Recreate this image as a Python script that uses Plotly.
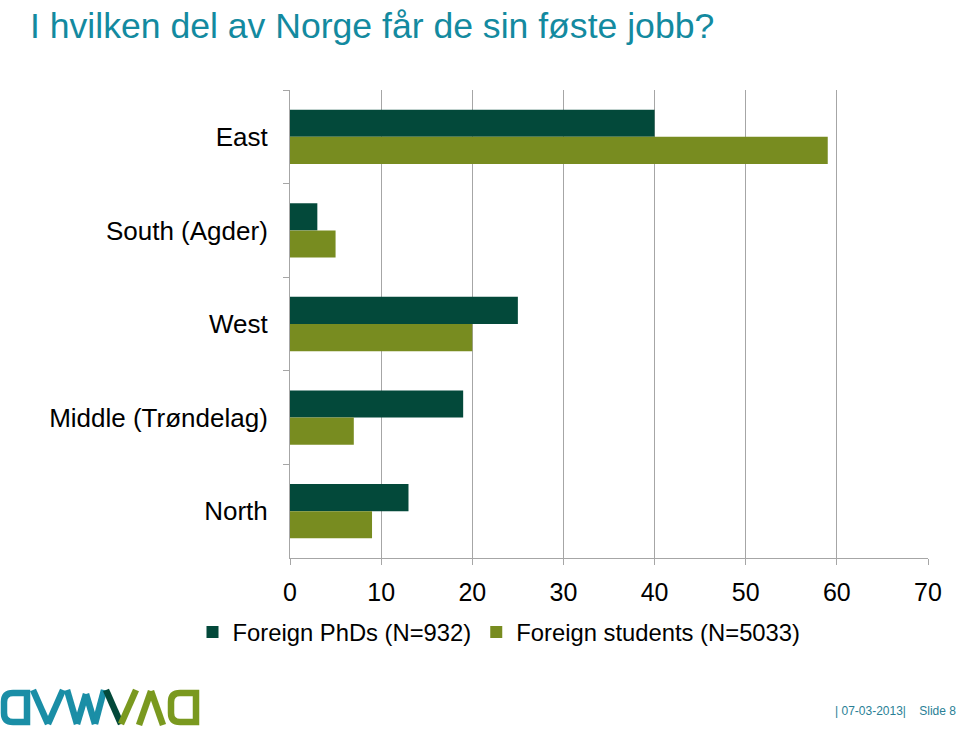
import plotly.graph_objects as go

categories = ["East", "South (Agder)", "West", "Middle (Trøndelag)", "North"]
phds = [40, 3, 25, 19, 13]
students = [59, 5, 20, 7, 9]
series_names = ["Foreign PhDs (N=932)", "Foreign students (N=5033)"]
x_ticks = [0, 10, 20, 30, 40, 50, 60, 70]

W, H = 960, 729
L, R, T, B = 290, 32, 90, 171
PW, PH = W - L - R, H - T - B

DARK = "#03493A"
OLIVE = "#788C20"
TEAL = "#138AA0"
FONT = "Liberation Sans, Arial, sans-serif"


def px(x):
    return (x - L) / PW


def py(y):
    return (H - B - y) / PH


fig = go.Figure()
fig.add_trace(go.Bar(y=categories, x=phds, orientation="h", name=series_names[0],
                     marker=dict(color=DARK, line=dict(width=0))))
fig.add_trace(go.Bar(y=categories, x=students, orientation="h", name=series_names[1],
                     marker=dict(color=OLIVE, line=dict(width=0))))

fig.update_layout(
    width=W, height=H,
    margin=dict(l=L, r=R, t=T, b=B, pad=0),
    paper_bgcolor="white", plot_bgcolor="white",
    barmode="group", bargap=0.42, bargroupgap=0,
    font=dict(family=FONT, color="black"),
    showlegend=True,
    legend=dict(orientation="h", x=px(499), xanchor="center", y=py(610), yanchor="top",
                font=dict(size=23.8, family=FONT, color="black"), traceorder="normal",
                itemsizing="constant", bgcolor="rgba(0,0,0,0)"),
    title=dict(text="I hvilken del av Norge får de sin føste jobb?", x=30 / W, xanchor="left",
               y=1 - 26 / H, yanchor="middle",
               font=dict(size=35.6, family=FONT, color=TEAL)),
)

fig.update_xaxes(range=[0, 70], tickvals=x_ticks, ticktext=[str(v) for v in x_ticks],
                 showgrid=True, gridcolor="#A6A6A6", gridwidth=1,
                 showline=True, linecolor="#A6A6A6", linewidth=1,
                 ticks="outside", ticklen=6, tickcolor="#A6A6A6",
                 tickfont=dict(size=25, family=FONT, color="black"), zeroline=False,
                 ticklabelstandoff=6, fixedrange=True)
fig.update_yaxes(categoryorder="array", categoryarray=categories, autorange="reversed",
                 showline=True, linecolor="#A6A6A6", linewidth=1,
                 ticks="outside", ticklen=6, tickcolor="#A6A6A6", tickson="boundaries",
                 tickfont=dict(size=26, family=FONT, color="black"), showgrid=False,
                 ticklabelstandoff=16, fixedrange=True)

# DAMVAD logo (decorative strokes, paper coordinates)
LT = "#1A8EA6"
LOL = "#7A991F"
LW = 6.5


def seg(x0, y0, x1, y1, color):
    return dict(type="line", xref="paper", yref="paper", x0=px(x0), y0=py(y0), x1=px(x1), y1=py(y1),
                line=dict(color=color, width=LW))


def dpath(xl, xr, color):
    r = 9
    yt, yb = 693, 722
    p = (f"M {px(xr)},{py(yt)} L {px(xl + r)},{py(yt)} Q {px(xl)},{py(yt)} {px(xl)},{py(yt + r)} "
         f"L {px(xl)},{py(yb - r)} Q {px(xl)},{py(yb)} {px(xl + r)},{py(yb)} L {px(xr)},{py(yb)} Z")
    return dict(type="path", xref="paper", yref="paper", path=p, line=dict(color=color, width=LW),
                fillcolor="rgba(0,0,0,0)")


shapes = [
    dpath(4, 27, LT),
    seg(33, 690, 48, 724, LT), seg(48, 724, 63, 690, LT),
    seg(67, 690, 77, 724, LT), seg(77, 724, 86, 694, LT), seg(86, 694, 95, 724, LT), seg(95, 724, 104, 690, LT),
    seg(106, 690, 121, 724, DARK),
    seg(121, 724, 136, 690, LOL),
    seg(139, 725, 151, 691, LOL), seg(151, 691, 163, 725, LOL),
    dpath(171, 196, LOL),
]
fig.update_layout(shapes=shapes)

fig.add_annotation(text="| 07-03-2013|    Slide 8", xref="paper", yref="paper",
                   x=px(958), y=py(711), xanchor="right", yanchor="middle", showarrow=False,
                   font=dict(size=12, family=FONT, color="#2A7F96"))

fig.write_html("out.html")
